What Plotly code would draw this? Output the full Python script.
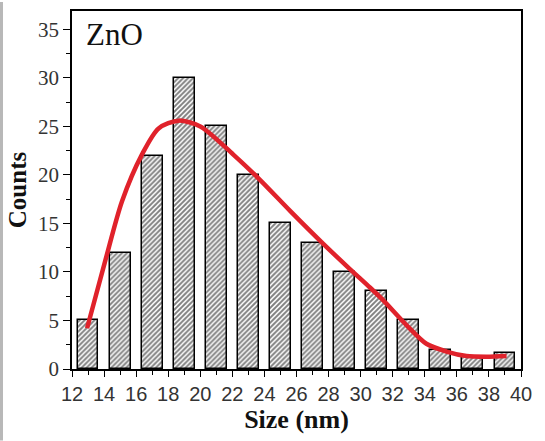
import plotly.graph_objects as go

# Histogram of ZnO particle sizes (bin centres in nm) and counts
size_bins = [13, 15, 17, 19, 21, 23, 25, 27, 29, 31, 33, 35, 37, 39]
counts = [5, 12, 22, 30, 25, 20, 15, 13, 10, 8, 5, 2, 1.2, 1.6]

# Fitted distribution curve (size, counts)
fit_x = [12.94, 14.08, 15.12, 16.36, 17.4, 18.65, 20.0, 22.06, 23.72,
         25.6, 27.67, 29.33, 30.58, 31.4, 32.87, 34.1, 35.36, 36.6, 37.85, 39.1]
fit_y = [4.2, 11.2, 17.3, 22.1, 24.8, 25.6, 25.0, 22.1, 19.5,
         16.3, 12.9, 10.3, 8.4, 7.1, 4.5, 2.6, 1.8, 1.33, 1.26, 1.33]

x_ticks = list(range(12, 41, 2))
y_ticks = list(range(0, 36, 5))

fig = go.Figure()

fig.add_trace(go.Bar(
    x=size_bins,
    y=counts,
    width=1.3,
    marker=dict(
        color="white",
        line=dict(color="black", width=1.5),
        pattern=dict(shape="/", fgcolor="#000000", bgcolor="white",
                     size=3.5, solidity=0.55, fillmode="overlay"),
    ),
    showlegend=False,
))

fig.add_trace(go.Scatter(
    x=fit_x,
    y=fit_y,
    mode="lines",
    line=dict(color="#e0222b", width=4.5, shape="spline", smoothing=0.8),
    showlegend=False,
))

fig.update_layout(
    width=545,
    height=441,
    margin=dict(l=72, r=24, t=9, b=72),
    paper_bgcolor="white",
    plot_bgcolor="white",
    bargap=0,
    xaxis=dict(
        range=[12, 40],
        tickvals=x_ticks,
        ticks="outside",
        ticklen=6,
        tickwidth=1.3,
        tickcolor="black",
        minor=dict(dtick=1, tick0=12, ticks="outside", ticklen=4,
                   tickwidth=1.3, tickcolor="black"),
        showline=True,
        linecolor="black",
        linewidth=1.5,
        mirror=True,
        showgrid=False,
        zeroline=False,
        tickfont=dict(family="Liberation Sans", size=20, color="#333333"),
        title=dict(text="<b>Size (nm)</b>",
                   font=dict(family="Liberation Serif", size=26, color="#111111"),
                   standoff=6),
    ),
    yaxis=dict(
        range=[0, 36.9],
        tickvals=y_ticks,
        ticks="outside",
        ticklen=7,
        tickwidth=1.3,
        tickcolor="black",
        minor=dict(dtick=2.5, tick0=0, ticks="outside", ticklen=4,
                   tickwidth=1.3, tickcolor="black"),
        showline=True,
        linecolor="black",
        linewidth=1.5,
        mirror=True,
        showgrid=False,
        zeroline=False,
        tickfont=dict(family="Liberation Serif", size=21, color="#333333"),
        title=dict(text="<b>Counts</b>",
                   font=dict(family="Liberation Serif", size=25, color="#111111"),
                   standoff=4),
    ),
    annotations=[
        dict(text="ZnO", x=0.026, y=0.99, xref="paper", yref="paper",
             xanchor="left", yanchor="top", showarrow=False,
             font=dict(family="Liberation Serif", size=31, color="#111111")),
    ],
    shapes=[
        dict(type="rect", xref="paper", yref="paper",
             x0=-72 / 449, x1=-69 / 449, y0=-72 / 360, y1=9 / 360 + 1,
             fillcolor="#b8b8b8", line=dict(width=0), layer="below"),
    ],
)

fig.write_html("out.html")
